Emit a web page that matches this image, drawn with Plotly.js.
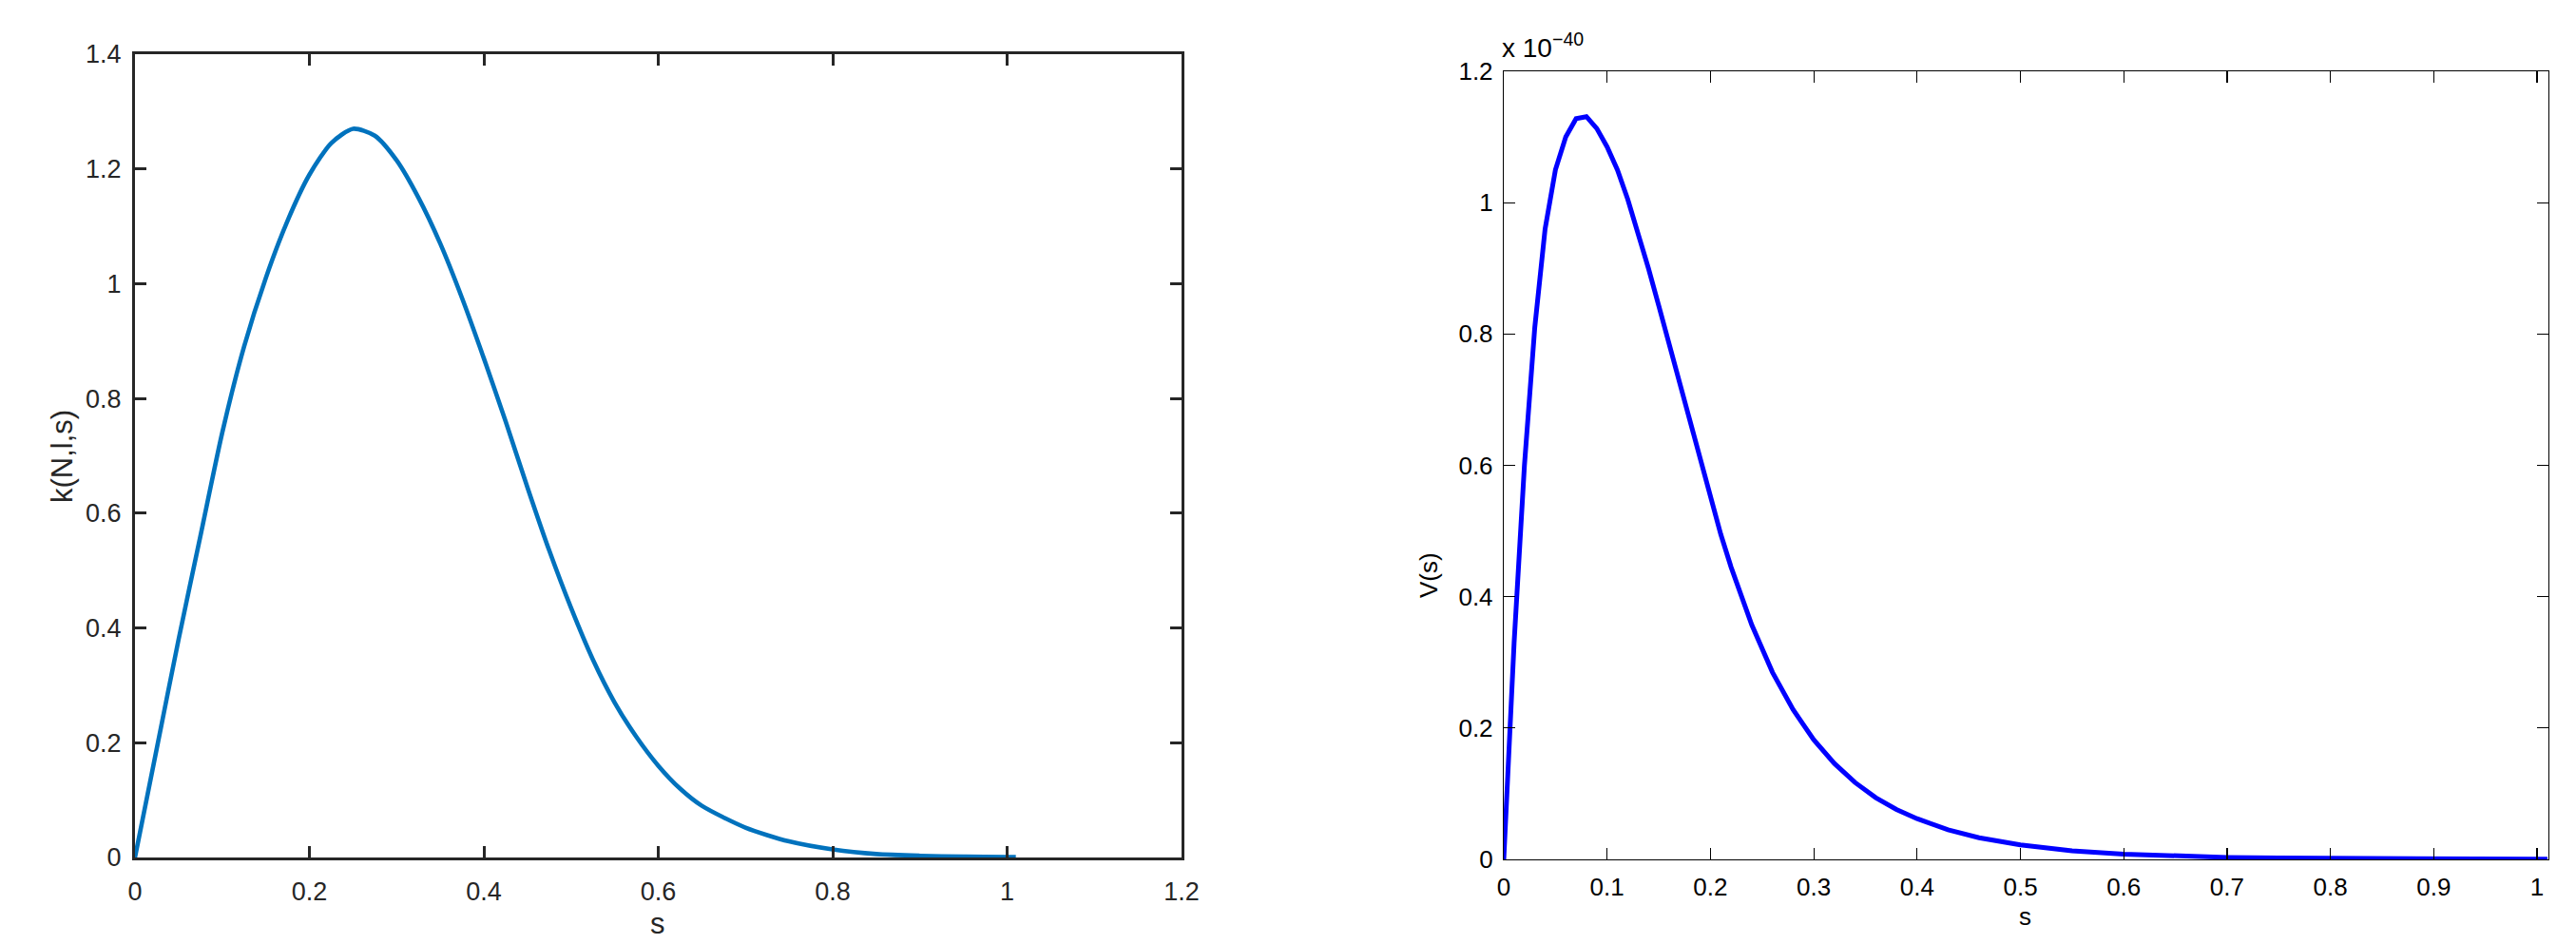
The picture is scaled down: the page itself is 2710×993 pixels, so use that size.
<!DOCTYPE html>
<html>
<head>
<meta charset="utf-8">
<script src="https://cdn.plot.ly/plotly-3.0.1.min.js"></script>
<style>html,body{margin:0;padding:0;background:#fff;}#chart{width:2710px;height:993px;}</style>
</head>
<body>
<div id="chart"></div>
<script>
// Left panel: k(N,l,s) vs s
const kS = [0, 0.025, 0.05, 0.075, 0.1, 0.125, 0.15, 0.175, 0.2, 0.225, 0.25, 0.275, 0.3, 0.325, 0.35, 0.375, 0.4, 0.425, 0.45, 0.475, 0.5, 0.525, 0.55, 0.575, 0.6, 0.625, 0.65, 0.7, 0.75, 0.8, 0.85, 0.9, 0.95, 1.0, 1.01];
const kVals = [0, 0.19, 0.38, 0.56, 0.74, 0.89, 1.01, 1.11, 1.19, 1.245, 1.27, 1.258, 1.215, 1.15, 1.07, 0.975, 0.87, 0.76, 0.645, 0.535, 0.435, 0.345, 0.27, 0.21, 0.16, 0.12, 0.09, 0.052, 0.028, 0.014, 0.006, 0.003, 0.0015, 0.0007, 0.0006];

// Right panel: V(s) vs s, values in units of 1e-40
const vS = [0, 0.01, 0.02, 0.03, 0.04, 0.05, 0.06, 0.07, 0.08, 0.09, 0.10, 0.11, 0.12, 0.13, 0.14, 0.15, 0.16, 0.17, 0.18, 0.19, 0.20, 0.21, 0.22, 0.23, 0.24, 0.26, 0.28, 0.30, 0.32, 0.34, 0.36, 0.38, 0.40, 0.43, 0.46, 0.50, 0.55, 0.60, 0.65, 0.70, 0.75, 0.80, 0.90, 1.00, 1.01];
const vValsE40 = [0, 0.33, 0.60, 0.81, 0.96, 1.05, 1.10, 1.128, 1.131, 1.113, 1.085, 1.05, 1.005, 0.955, 0.90, 0.843, 0.785, 0.725, 0.665, 0.607, 0.55, 0.495, 0.445, 0.40, 0.357, 0.285, 0.228, 0.182, 0.146, 0.117, 0.094, 0.076, 0.062, 0.045, 0.033, 0.022, 0.013, 0.008, 0.005, 0.003, 0.002, 0.0013, 0.0006, 0.0003, 0.0003];

const leftTicksX = [0, 0.2, 0.4, 0.6, 0.8, 1, 1.2];
const leftTicksY = [0, 0.2, 0.4, 0.6, 0.8, 1, 1.2, 1.4];
const rightTicksX = [0, 0.1, 0.2, 0.3, 0.4, 0.5, 0.6, 0.7, 0.8, 0.9, 1];
const rightTicksY = [0, 0.2, 0.4, 0.6, 0.8, 1, 1.2];

const W = 2710, H = 993;
const L = {x0: 142, x1: 1243, y0: 57, y1: 902};
const R = {x0: 1582, x1: 2681, y0: 75, y1: 904};

const dark = '#262626';
const fam = 'Liberation Sans, Arial, sans-serif';
const fontL = {family: fam, size: 27, color: dark};
const fontR = {family: fam, size: 26, color: '#000'};

const traces = [
  {x: kS, y: kVals, type: 'scatter', mode: 'lines', line: {color: '#0072BD', width: 4.6, shape: 'spline', smoothing: 0.7}, xaxis: 'x', yaxis: 'y', hoverinfo: 'skip'},
  {x: vS, y: vValsE40, type: 'scatter', mode: 'lines', line: {color: '#0000FF', width: 5}, xaxis: 'x2', yaxis: 'y2', hoverinfo: 'skip'}
];

function axBase(col, lw, font) {
  return {showline: true, linecolor: col, linewidth: lw, mirror: 'ticks', ticks: 'inside', ticklen: 12, tickwidth: lw, tickcolor: col,
          showgrid: false, zeroline: false, tickfont: font, automargin: false, fixedrange: true};
}

const layout = {
  width: W, height: H,
  margin: {l: 0, r: 0, t: 0, b: 0},
  paper_bgcolor: '#fff', plot_bgcolor: '#fff',
  showlegend: false,
  xaxis: Object.assign(axBase(dark, 3, fontL), {domain: [L.x0 / W, L.x1 / W], range: [0, 1.2], tickvals: leftTicksX, anchor: 'y', ticklabelstandoff: 10}),
  yaxis: Object.assign(axBase(dark, 3, fontL), {domain: [1 - L.y1 / H, 1 - L.y0 / H], range: [0, 1.4], tickvals: leftTicksY, anchor: 'x', ticklabelstandoff: 6}),
  xaxis2: Object.assign(axBase('#000', 1.2, fontR), {domain: [R.x0 / W, R.x1 / W], range: [0, 1.011], tickvals: rightTicksX, anchor: 'y2', ticklabelstandoff: 6}),
  yaxis2: Object.assign(axBase('#000', 1.2, fontR), {domain: [1 - R.y1 / H, 1 - R.y0 / H], range: [0, 1.2], tickvals: rightTicksY, anchor: 'x2', ticklabelstandoff: 5}),
  annotations: [
    {text: 'k(N,l,s)', xref: 'paper', yref: 'paper', x: 65 / W, y: 1 - 480 / H, showarrow: false, textangle: -90, font: {family: fam, size: 31, color: dark}, xanchor: 'center', yanchor: 'middle'},
    {text: 's', xref: 'paper', yref: 'paper', x: 692 / W, y: 1 - 971 / H, showarrow: false, font: {family: fam, size: 31, color: dark}, xanchor: 'center', yanchor: 'middle'},
    {text: 'V(s)', xref: 'paper', yref: 'paper', x: 1503 / W, y: 1 - 605 / H, showarrow: false, textangle: -90, font: {family: fam, size: 26, color: '#000'}, xanchor: 'center', yanchor: 'middle'},
    {text: 's', xref: 'paper', yref: 'paper', x: 2130 / W, y: 1 - 964 / H, showarrow: false, font: {family: fam, size: 26, color: '#000'}, xanchor: 'center', yanchor: 'middle'},
    {text: 'x 10<sup>−40</sup>', xref: 'paper', yref: 'paper', x: 1578 / W, y: 1 - 68 / H, showarrow: false, font: {family: fam, size: 28, color: '#000'}, xanchor: 'left', yanchor: 'bottom'}
  ]
};

Plotly.newPlot('chart', traces, layout, {staticPlot: true, displayModeBar: false});
</script>
</body>
</html>
